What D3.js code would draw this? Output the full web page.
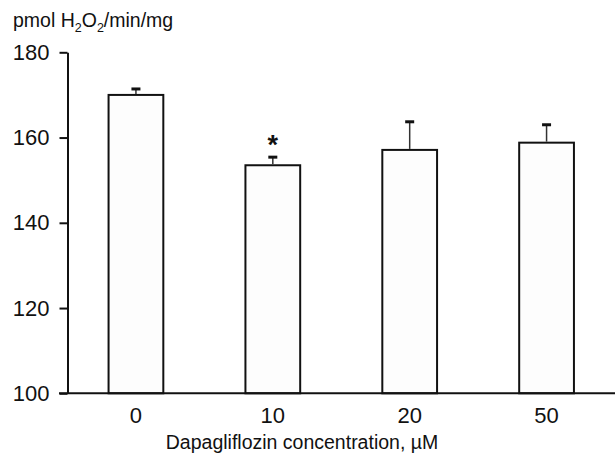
<!DOCTYPE html>
<html>
<head>
<meta charset="utf-8">
<script src="https://cdn.jsdelivr.net/npm/d3@7"></script>
<style>
  body { margin: 0; background: #fff; }
  text { font-family: "Liberation Sans", Arial, sans-serif; fill: #111; }
</style>
</head>
<body>
<svg id="chart" width="615" height="457"></svg>
<script>
// concentrations (uM) and measured H2O2 production
var categories = ["0", "10", "20", "50"];
var means = [170.0, 153.5, 157.1, 158.8];
var errors = [1.4, 1.9, 6.6, 4.2];
var marks = ["", "*", "", ""];
var yTicks = [100, 120, 140, 160, 180];

var svg = d3.select("#chart");

var x = d3.scaleBand()
    .domain(categories)
    .range([67.5, 615])
    .paddingInner(0.6)
    .paddingOuter(0.3);

var y = d3.scaleLinear()
    .domain([100, 180])
    .range([393.3, 52.3]);

// Bars
svg.append("g")
    .selectAll("rect")
    .data(means)
    .enter()
    .append("rect")
    .attr("x", function (d, i) { return x(categories[i]); })
    .attr("y", function (d) { return y(d); })
    .attr("width", x.bandwidth())
    .attr("height", function (d) { return y(100) - y(d); })
    .attr("fill", "#fdfdfd")
    .attr("stroke", "#111")
    .attr("stroke-width", 2);

// Error bars (upper half only)
var err = svg.append("g");
err.selectAll("line.stem")
    .data(means)
    .enter()
    .append("line")
    .attr("class", "stem")
    .attr("x1", function (d, i) { return x(categories[i]) + x.bandwidth() / 2; })
    .attr("x2", function (d, i) { return x(categories[i]) + x.bandwidth() / 2; })
    .attr("y1", function (d) { return y(d) - 1; })
    .attr("y2", function (d, i) { return y(d + errors[i]); })
    .attr("stroke", "#333")
    .attr("stroke-width", 1.5);
err.selectAll("line.cap")
    .data(means)
    .enter()
    .append("line")
    .attr("class", "cap")
    .attr("x1", function (d, i) { return x(categories[i]) + x.bandwidth() / 2 - 4.5; })
    .attr("x2", function (d, i) { return x(categories[i]) + x.bandwidth() / 2 + 4.5; })
    .attr("y1", function (d, i) { return y(d + errors[i]); })
    .attr("y2", function (d, i) { return y(d + errors[i]); })
    .attr("stroke", "#111")
    .attr("stroke-width", 3);

// Significance marks
svg.append("g")
    .selectAll("text")
    .data(marks)
    .enter()
    .append("text")
    .attr("x", function (d, i) { return x(categories[i]) + x.bandwidth() / 2; })
    .attr("y", function (d, i) { return y(means[i] + errors[i]) - 3; })
    .attr("text-anchor", "middle")
    .style("font-size", "27px")
    .style("font-weight", "bold")
    .text(function (d) { return d; });

// Y axis
var yAxis = svg.append("g")
    .attr("transform", "translate(67.5,0)")
    .call(d3.axisLeft(y).tickValues(yTicks).tickSize(8).tickSizeOuter(0).tickPadding(10));
yAxis.select(".domain").attr("stroke", "#111").attr("stroke-width", 2);
yAxis.selectAll(".tick line").attr("stroke", "#111").attr("stroke-width", 2);
yAxis.selectAll(".tick text")
    .style("font-size", "22px")
    .attr("fill", "#111");

// X axis
var xAxis = svg.append("g")
    .attr("transform", "translate(0,393.3)")
    .call(d3.axisBottom(x).tickSize(0).tickPadding(14));
xAxis.select(".domain").remove();
xAxis.selectAll(".tick text")
    .style("font-size", "22px")
    .attr("fill", "#111");
svg.append("line")
    .attr("x1", 59)
    .attr("x2", 615)
    .attr("y1", y(100))
    .attr("y2", y(100))
    .attr("stroke", "#111")
    .attr("stroke-width", 2);

// Axis titles
svg.append("text")
    .attr("x", 302)
    .attr("y", 449)
    .attr("text-anchor", "middle")
    .style("font-size", "19.5px")
    .text("Dapagliflozin concentration, \u00b5M");

var title = svg.append("text")
    .attr("x", 13)
    .attr("y", 27)
    .style("font-size", "19.5px");
title.append("tspan").text("pmol H");
title.append("tspan").attr("dy", 5).style("font-size", "12.5px").text("2");
title.append("tspan").attr("dy", -5).text("O");
title.append("tspan").attr("dy", 5).style("font-size", "12.5px").text("2");
title.append("tspan").attr("dy", -5).text("/min/mg");
</script>
</body>
</html>
